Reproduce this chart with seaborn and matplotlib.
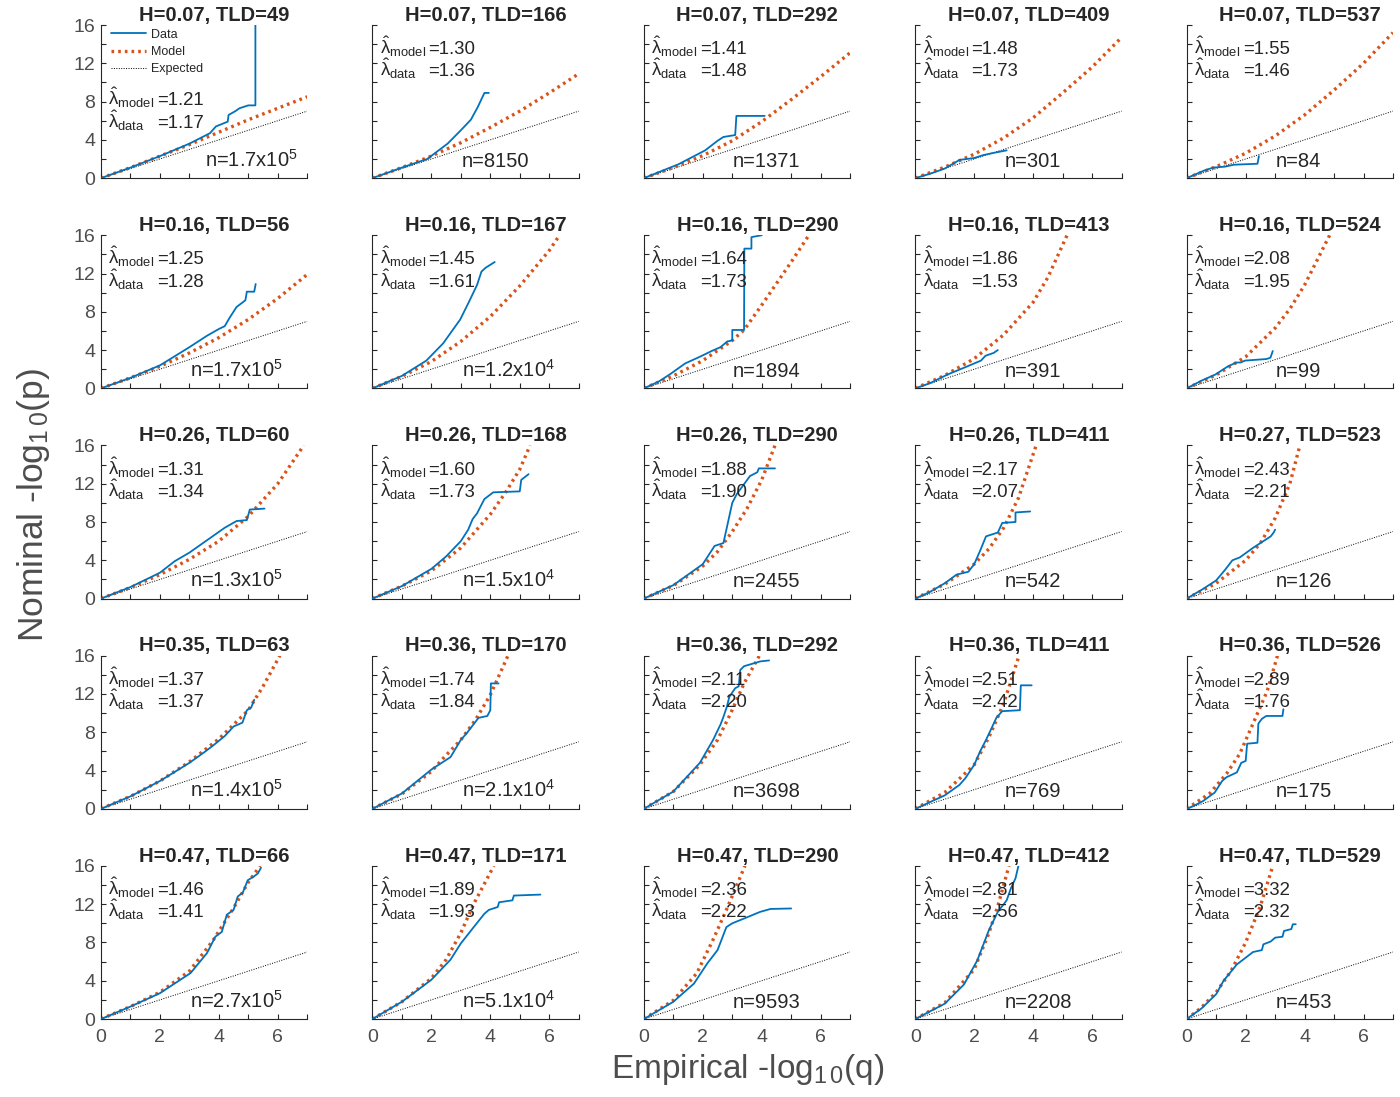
import numpy as np
import matplotlib
matplotlib.use('Agg')
import matplotlib.pyplot as plt
import seaborn as sns

# ---- values ----
titles = ['H=0.07, TLD=49', 'H=0.07, TLD=166', 'H=0.07, TLD=292', 'H=0.07, TLD=409', 'H=0.07, TLD=537',
          'H=0.16, TLD=56', 'H=0.16, TLD=167', 'H=0.16, TLD=290', 'H=0.16, TLD=413', 'H=0.16, TLD=524',
          'H=0.26, TLD=60', 'H=0.26, TLD=168', 'H=0.26, TLD=290', 'H=0.26, TLD=411', 'H=0.27, TLD=523',
          'H=0.35, TLD=63', 'H=0.36, TLD=170', 'H=0.36, TLD=292', 'H=0.36, TLD=411', 'H=0.36, TLD=526',
          'H=0.47, TLD=66', 'H=0.47, TLD=171', 'H=0.47, TLD=290', 'H=0.47, TLD=412', 'H=0.47, TLD=529']
lam_model = ['1.21', '1.30', '1.41', '1.48', '1.55',
             '1.25', '1.45', '1.64', '1.86', '2.08',
             '1.31', '1.60', '1.88', '2.17', '2.43',
             '1.37', '1.74', '2.11', '2.51', '2.89',
             '1.46', '1.89', '2.36', '2.81', '3.32']
lam_data = ['1.17', '1.36', '1.48', '1.73', '1.46',
            '1.28', '1.61', '1.73', '1.53', '1.95',
            '1.34', '1.73', '1.90', '2.07', '2.21',
            '1.37', '1.84', '2.20', '2.42', '1.76',
            '1.41', '1.93', '2.22', '2.56', '2.32']
n_labels = [r'n=1.7x10$^5$', 'n=8150', 'n=1371', 'n=301', 'n=84',
            r'n=1.7x10$^5$', r'n=1.2x10$^4$', 'n=1894', 'n=391', 'n=99',
            r'n=1.3x10$^5$', r'n=1.5x10$^4$', 'n=2455', 'n=542', 'n=126',
            r'n=1.4x10$^5$', r'n=2.1x10$^4$', 'n=3698', 'n=769', 'n=175',
            r'n=2.7x10$^5$', r'n=5.1x10$^4$', 'n=9593', 'n=2208', 'n=453']

# observed QQ curves (x = empirical, y = nominal)
data_x = [
    [0, 1, 2, 3.0, 3.7, 3.9, 4.3, 4.33, 4.56, 4.7, 5.0, 5.24, 5.24],
    [0, 1, 1.86, 2.55, 3.0, 3.34, 3.57, 3.8, 3.95],
    [0, 1.17, 2.08, 2.5, 2.7, 3.1, 3.14, 4.1],
    [0, 0.5, 1.0, 1.5, 2.0, 2.3, 2.6, 3.1],
    [0, 0.3, 0.6, 0.9, 1.3, 1.6, 2.4, 2.45],
    [0, 1, 2, 3, 3.6, 4.0, 4.2, 4.35, 4.6, 4.9, 4.95, 5.2, 5.25],
    [0, 1, 1.83, 2.4, 2.98, 3.27, 3.55, 3.7, 3.84, 4.15],
    [0, 0.5, 0.9, 1.4, 1.9, 2.3, 2.6, 2.83, 3.0, 3.0, 3.4, 3.41, 3.65, 3.65, 4.0],
    [0, 0.5, 1.09, 1.66, 2.23, 2.38, 2.66, 2.8],
    [0, 0.5, 0.97, 1.4, 1.69, 1.83, 1.98, 2.7, 2.84, 2.92],
    [0, 1, 2, 2.5, 3, 3.6, 4.2, 4.6, 4.95, 5.05, 5.55],
    [0, 1, 2, 2.5, 3, 3.25, 3.4, 3.55, 3.8, 4.1, 5.0, 5.05, 5.3],
    [0, 1, 2, 2.4, 2.7, 2.85, 3.0, 3.15, 3.6, 3.85, 3.9, 4.45],
    [0, 0.5, 1.0, 1.4, 1.8, 2.0, 2.2, 2.4, 2.8, 2.95, 3.4, 3.4, 3.9],
    [0, 0.5, 1, 1.3, 1.55, 1.8, 2.25, 2.55, 2.7, 2.85, 2.95, 3.0],
    [0, 1, 2, 3, 3.5, 3.8, 4.2, 4.5, 4.8, 4.95, 5.1, 5.2],
    [0, 1, 2, 2.45, 2.65, 3.0, 3.2, 3.5, 3.6, 3.9, 4.0, 4.02, 4.28],
    [0, 1, 1.9, 2.35, 2.6, 2.7, 2.82, 2.9, 3.1, 3.22, 3.27, 3.4, 3.95, 4.25],
    [0, 0.5, 1, 1.5, 1.7, 2.0, 2.2, 2.4, 2.6, 2.75, 2.95, 3.55, 3.58, 3.95],
    [0, 0.3, 0.55, 0.95, 1.2, 1.35, 1.7, 1.85, 2.0, 2.05, 2.4, 2.43, 2.55, 2.7, 3.25, 3.28],
    [0, 1, 2.0, 3.04, 3.6, 3.88, 4.1, 4.27, 4.5, 4.64, 4.81, 4.98, 5.19, 5.32, 5.43],
    [0, 1, 2, 2.65, 3, 3.45, 3.8, 3.95, 4.25, 4.3, 4.75, 4.8, 5.7],
    [0, 1, 1.7, 2.15, 2.5, 2.8, 3.0, 3.4, 3.95, 4.3, 5.0],
    [0, 1, 1.65, 2.1, 2.5, 2.8, 3.1, 3.25, 3.4, 3.5],
    [0, 0.5, 1.0, 1.25, 1.7, 2.25, 2.55, 2.6, 2.85, 3.0, 3.25, 3.3, 3.55, 3.6, 3.7],
]
data_y = [
    [0, 1.1, 2.3, 3.6, 4.7, 5.4, 5.9, 6.6, 7.0, 7.3, 7.6, 7.6, 16],
    [0, 1.1, 2.0, 3.6, 5.0, 6.1, 7.4, 8.9, 8.9],
    [0, 1.44, 2.9, 3.9, 4.3, 4.5, 6.5, 6.5],
    [0, 0.45, 1.0, 1.9, 2.1, 2.4, 2.6, 2.9],
    [0, 0.4, 0.8, 1.1, 1.2, 1.4, 1.5, 2.3],
    [0, 1.1, 2.4, 4.3, 5.5, 6.2, 6.5, 7.3, 8.5, 9.2, 10.1, 10.1, 10.9],
    [0, 1.3, 2.9, 4.7, 7.2, 9.0, 10.8, 12.2, 12.6, 13.2],
    [0, 0.7, 1.5, 2.6, 3.3, 3.9, 4.3, 4.9, 5.0, 6.1, 6.1, 14.6, 14.6, 15.8, 16.0],
    [0, 0.54, 1.44, 2.16, 2.9, 3.4, 3.7, 4.0],
    [0, 0.8, 1.44, 2.3, 2.7, 2.7, 2.9, 3.06, 3.2, 3.9],
    [0, 1.2, 2.7, 3.9, 4.8, 6.1, 7.4, 8.1, 8.2, 9.3, 9.4],
    [0, 1.3, 3.1, 4.4, 6.0, 7.2, 8.3, 8.9, 10.4, 11.1, 11.2, 12.4, 13.0],
    [0, 1.4, 3.6, 5.5, 5.8, 7.9, 10.0, 10.9, 12.8, 13.2, 13.6, 13.6],
    [0, 0.7, 1.6, 2.5, 2.8, 3.6, 5.0, 6.5, 6.9, 7.9, 8.0, 9.0, 9.1],
    [0, 0.9, 1.9, 3.0, 4.0, 4.3, 5.3, 5.9, 6.2, 6.5, 6.9, 7.2],
    [0, 1.3, 2.9, 4.8, 5.9, 6.6, 7.6, 8.6, 9.0, 10.3, 10.6, 11.4],
    [0, 1.6, 4.1, 5.0, 5.4, 7.2, 7.9, 9.1, 9.5, 9.7, 10.3, 13.1, 13.1],
    [0, 1.8, 4.8, 7.2, 8.8, 9.6, 10.7, 11.7, 12.6, 12.8, 14.5, 14.9, 15.4, 15.5],
    [0, 0.7, 1.4, 2.5, 3.2, 4.6, 6.0, 7.2, 8.5, 9.5, 10.2, 10.3, 12.9, 12.9],
    [0, 0.4, 0.8, 1.7, 2.9, 3.3, 3.8, 4.8, 5.0, 6.8, 6.9, 8.9, 9.4, 9.7, 9.7, 10.4],
    [0, 1.3, 2.7, 4.8, 6.9, 8.6, 9.1, 10.9, 11.4, 12.8, 13.2, 14.5, 14.9, 15.2, 15.8],
    [0, 1.8, 4.1, 6.2, 7.9, 9.65, 11.0, 11.4, 11.7, 12.2, 12.4, 12.9, 13.0],
    [0, 1.8, 3.7, 5.8, 7.2, 9.6, 10.0, 10.5, 11.2, 11.5, 11.55],
    [0, 1.6, 3.6, 6.1, 9.3, 11.2, 12.4, 13.7, 14.7, 16],
    [0, 1.1, 2.6, 4.0, 5.7, 7.0, 7.2, 7.8, 8.1, 8.5, 8.6, 9.2, 9.4, 9.9, 9.9],
]

# model-predicted QQ curves
model_x = [
    [0, 1, 2, 3, 4, 5, 6, 7], [0, 1, 2, 3, 4, 5, 6, 7], [0, 1, 2, 3, 4, 5, 6, 7],
    [0, 1, 2, 3, 4, 5, 6, 7], [0, 1, 2, 3, 4, 5, 6, 7],
    [0, 1, 2, 3, 4, 5, 6, 7], [0, 1, 2, 3, 4, 5, 6, 6.35], [0, 1, 2, 3, 3.4, 4, 5, 5.6],
    [0, 1, 2, 3, 4, 4.5, 5.15], [0, 1, 2, 3, 3.5, 4, 4.85],
    [0, 1, 2, 3, 4, 5, 6, 6.88], [0, 1, 2, 3, 4, 4.5, 5, 5.35], [0, 1, 2, 2.5, 3, 3.5, 4, 4.45],
    [0, 1, 2, 2.5, 3, 3.5, 4.1], [0, 1, 2, 2.5, 3, 3.5, 3.84],
    [0, 1, 2, 3, 4, 5, 5.5, 6.07], [0, 1, 2, 2.5, 3, 3.5, 4, 4.6], [0, 1, 1.9, 2.5, 2.95, 3.4, 3.92],
    [0, 1, 2, 2.5, 3, 3.52], [0, 0.78, 1.36, 1.8, 2.25, 2.73, 3.08],
    [0, 1, 2, 3, 3.8, 4.5, 5.0, 5.4], [0, 1, 2, 2.5, 3, 3.45, 4.12], [0, 1, 1.8, 2.35, 2.8, 3.43],
    [0, 1, 2, 2.5, 2.8, 3.18], [0, 0.5, 1, 1.5, 2, 2.5, 2.92],
]
model_y = [
    [0, 1.1, 2.3, 3.5, 4.8, 6.1, 7.3, 8.5], [0, 1.1, 2.3, 3.7, 5.3, 7.0, 8.9, 10.9],
    [0, 1.1, 2.35, 3.9, 5.9, 8.2, 10.6, 13.1], [0, 1.15, 2.5, 4.2, 6.3, 8.9, 11.6, 14.7],
    [0, 1.2, 2.6, 4.4, 6.6, 9.2, 12.0, 15.2],
    [0, 1.1, 2.3, 3.7, 5.3, 7.2, 9.4, 11.9], [0, 1.25, 2.8, 4.9, 7.5, 10.7, 14.4, 16],
    [0, 1.3, 2.9, 5.0, 6.1, 8.7, 13.2, 16], [0, 1.35, 3.1, 5.6, 9.0, 11.6, 16], [0, 1.4, 3.3, 6.3, 8.3, 10.8, 16],
    [0, 1.15, 2.5, 4.1, 6.0, 8.6, 12.0, 16], [0, 1.3, 2.9, 5.3, 8.8, 11.0, 13.5, 16],
    [0, 1.35, 3.4, 4.9, 7.0, 9.4, 12.4, 16], [0, 1.5, 3.6, 5.2, 7.4, 10.5, 16], [0, 1.6, 4.0, 5.8, 8.4, 12.0, 16],
    [0, 1.3, 2.9, 4.9, 7.3, 10.3, 12.8, 16], [0, 1.55, 3.9, 5.6, 7.2, 9.3, 11.9, 16],
    [0, 1.8, 4.6, 7.2, 10.0, 13.1, 16], [0, 1.7, 4.6, 7.5, 11.0, 16], [0, 1.6, 3.7, 5.75, 8.9, 12.3, 16],
    [0, 1.3, 2.8, 5.0, 8.2, 11.6, 14.3, 16], [0, 1.8, 4.25, 6.2, 9.0, 12.1, 16],
    [0, 1.95, 4.8, 8.3, 11.4, 16], [0, 1.7, 5.2, 9.0, 11.8, 16], [0, 1.2, 2.8, 5.0, 8.0, 11.8, 16],
]

expected = [0, 7]

# ---- style ----
sns.set_style('ticks')
plt.rcParams['font.family'] = ['Liberation Sans', 'DejaVu Sans']
plt.rcParams['mathtext.fontset'] = 'custom'
plt.rcParams['mathtext.rm'] = 'Liberation Sans'
plt.rcParams['mathtext.it'] = 'Liberation Sans'
plt.rcParams['mathtext.bf'] = 'Liberation Sans:bold'

blue = '#0072BD'
orange = '#D95319'
gray = '#4D4D4D'

fig, axes = plt.subplots(5, 5, figsize=(14, 10.97), dpi=100)
fig.subplots_adjust(left=101 / 1400, right=1393 / 1400, top=1 - 25 / 1097, bottom=1 - 1019 / 1097,
                    wspace=0.316, hspace=0.373)

for i, ax in enumerate(axes.flat):
    r, c = divmod(i, 5)
    sns.lineplot(x=expected, y=expected, ax=ax, color='black', lw=0.7,
                 linestyle=(0, (1, 1.5)), zorder=1)
    sns.lineplot(x=model_x[i], y=model_y[i], ax=ax, color=orange, lw=2.4, sort=False, estimator=None,
                 linestyle=(0, (0.8, 1.2)), zorder=2)
    sns.lineplot(x=data_x[i], y=data_y[i], ax=ax, color=blue, lw=1.3, sort=False, estimator=None,
                 zorder=3)

    ax.set_xlim(0, 7)
    ax.set_ylim(0, 16)
    ax.set_xticks(range(0, 8))
    ax.set_yticks(range(0, 17, 2))
    if r == 4:
        ax.set_xticklabels(['0', '', '2', '', '4', '', '6', ''])
    else:
        ax.set_xticklabels([])
    if c == 0:
        ax.set_yticklabels(['0', '', '4', '', '8', '', '12', '', '16'])
    else:
        ax.set_yticklabels([])
    ax.tick_params(direction='in', length=3.5, width=0.8, labelsize=14, labelcolor=gray,
                   color='#262626')
    ax.tick_params(axis='x', pad=7)
    ax.tick_params(axis='y', pad=4)
    sns.despine(ax=ax)
    for s in ['left', 'bottom']:
        ax.spines[s].set_color('#262626')
        ax.spines[s].set_linewidth(0.8)
    ax.set_xlabel('')
    ax.set_ylabel('')
    ax.set_title(titles[i], fontsize=14.5, fontweight='bold', pad=3, x=0.55)

    if i == 0:
        y1, y2, nx = 0.48, 0.33, 0.505
        h = [ax.get_lines()[2], ax.get_lines()[1], ax.get_lines()[0]]
        ax.legend(handles=h, labels=['Data', 'Model', 'Expected'], loc='upper left',
                  bbox_to_anchor=(0.05, 0.975), frameon=False, fontsize=9, handlelength=2.8,
                  handletextpad=0.4, labelspacing=0.42, borderpad=0, borderaxespad=0)
    else:
        y1, y2, nx = 0.81, 0.665, 0.432
    for yy, sub, val in [(y1, 'model', lam_model[i]), (y2, 'data', lam_data[i])]:
        ax.text(0.035, yy, r'$\hat{\lambda}_{\mathrm{' + sub + '}}$', transform=ax.transAxes,
                fontsize=13.4, va='baseline', ha='left')
        ax.text(0.272, yy, '=' + val, transform=ax.transAxes, fontsize=13.4,
                va='baseline', ha='left')
    ax.text(nx, 0.075, n_labels[i], transform=ax.transAxes, fontsize=14.5, va='baseline', ha='left')

fig.text(0.534, 0.025, r'Empirical -log$_{1\,0}$(q)', fontsize=24, color=gray, ha='center', va='center')
fig.text(0.024, 0.54, r'Nominal -log$_{1\,0}$(p)', fontsize=25.5, color=gray, ha='center', va='center',
         rotation=90)

fig.savefig('out.png', dpi=100)
